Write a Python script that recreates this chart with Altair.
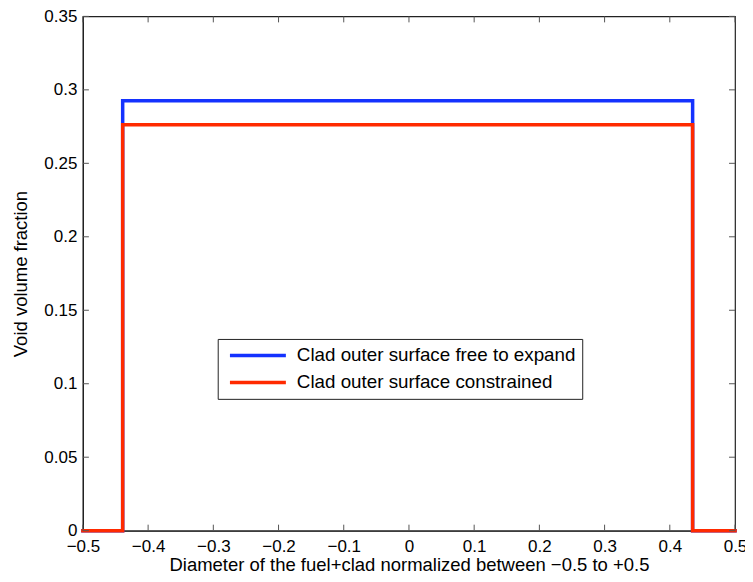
import altair as alt
import pandas as pd

# step profiles (x, void fraction)
x_steps = [-0.5, -0.439, -0.439, 0.435, 0.435, 0.5]
y_free = [0.0, 0.0, 0.2925, 0.2925, 0.0, 0.0]
y_constrained = [0.0, 0.0, 0.2763, 0.2763, 0.0, 0.0]
series_names = ["Clad outer surface free to expand", "Clad outer surface constrained"]
series_colors = ["#1432ff", "#ff2a00"]
x_ticks = [-0.5, -0.4, -0.3, -0.2, -0.1, 0.0, 0.1, 0.2, 0.3, 0.4, 0.5]
y_ticks = [0.0, 0.05, 0.1, 0.15, 0.2, 0.25, 0.3, 0.35]

W, H = 653, 515
FONT = "Liberation Sans"
LFS = 17

df_free = pd.DataFrame({"x": x_steps, "y": y_free, "series": series_names[0], "o": range(len(x_steps))})
df_con = pd.DataFrame({"x": x_steps, "y": y_constrained, "series": series_names[1], "o": range(len(x_steps))})
dfx = pd.DataFrame({"t": x_ticks})
dfy = pd.DataFrame({"t": y_ticks})

xs = alt.Scale(domain=[-0.5, 0.5], nice=False, zero=False)
ys = alt.Scale(domain=[0, 0.35], nice=False)
cs = alt.Scale(domain=series_names, range=series_colors)

xax = alt.Axis(values=x_ticks, format="~g", tickSize=0, grid=False, labelPadding=8,
               labelFlush=False, labelOverlap=False,
               labelFontSize=LFS, titleFontSize=18.5, labelFont=FONT, titleFont=FONT,
               title="Diameter of the fuel+clad normalized between \u22120.5 to +0.5", titlePadding=1)
yax = alt.Axis(values=y_ticks, format="~g", tickSize=0, grid=False, labelPadding=6,
               labelFlush=False, labelOverlap=False,
               labelFontSize=LFS, titleFontSize=18.5, labelFont=FONT, titleFont=FONT,
               title="Void volume fraction", titlePadding=13)

legend = alt.Legend(title=None, orient="none", legendX=135, legendY=323,
                    symbolType="stroke", symbolSize=3136, symbolStrokeWidth=3.5,
                    clipHeight=20, symbolOffset=3.75,
                    strokeColor="#222222", fillColor="white", padding=6.5,
                    labelFontSize=18.8, labelFont=FONT, labelColor="black",
                    rowPadding=7, labelOffset=9, labelLimit=500)

def line_layer(df):
    return alt.Chart(df).mark_line(strokeWidth=3.5, interpolate="linear", strokeCap="square").encode(
        x=alt.X("x:Q", scale=xs, axis=xax),
        y=alt.Y("y:Q", scale=ys, axis=yax),
        color=alt.Color("series:N", scale=cs, legend=legend, sort=series_names),
        order="o:Q",
    )

tick_color = "#555555"
bt = alt.Chart(dfx).mark_rule(color=tick_color).encode(x=alt.X("t:Q", scale=xs, axis=xax), y=alt.value(H), y2=alt.value(H - 6))
tt = alt.Chart(dfx).mark_rule(color=tick_color).encode(x=alt.X("t:Q", scale=xs, axis=xax), y=alt.value(0), y2=alt.value(6))
lt = alt.Chart(dfy).mark_rule(color=tick_color).encode(y=alt.Y("t:Q", scale=ys, axis=yax), x=alt.value(0), x2=alt.value(6))
rt = alt.Chart(dfy).mark_rule(color=tick_color).encode(y=alt.Y("t:Q", scale=ys, axis=yax), x=alt.value(W), x2=alt.value(W - 6))

chart = alt.layer(line_layer(df_free), line_layer(df_con), bt, tt, lt, rt).properties(
    width=W, height=H,
    autosize=alt.AutoSizeParams(type="none"),
    padding={"left": 75, "top": 8, "right": 10, "bottom": 49},
).configure_view(stroke="#222222", strokeWidth=1.2).configure_axis(
    labelColor="black", titleColor="black", labelFontSize=LFS, titleFontSize=18.5,
    labelFont=FONT, titleFont=FONT, labelFlush=False,
    titleFontWeight="normal", domainColor="#222222", domainWidth=1.2,
)

chart.save("out.html", embed_options={"renderer": "svg", "actions": False})
